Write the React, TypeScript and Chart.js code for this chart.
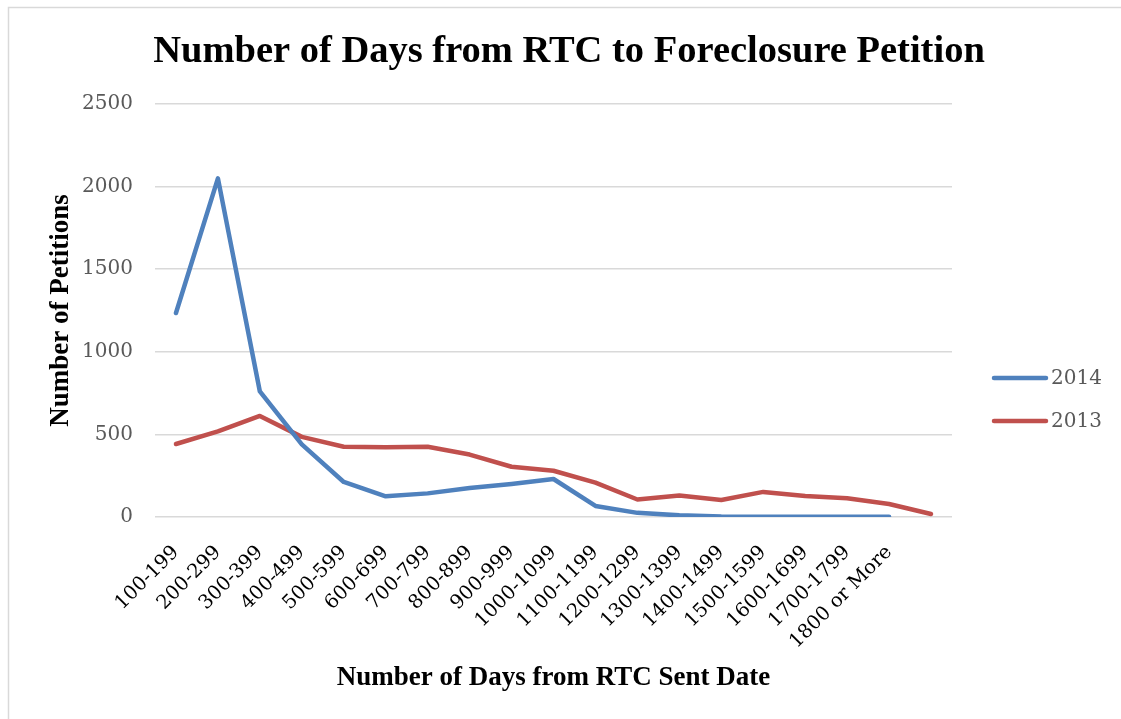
import React, { useEffect, useRef } from "react";
import { Chart, registerables } from "chart.js";
Chart.register(...registerables);

const categories = [
  "100-199", "200-299", "300-399", "400-499", "500-599", "600-699", "700-799",
  "800-899", "900-999", "1000-1099", "1100-1199", "1200-1299", "1300-1399",
  "1400-1499", "1500-1599", "1600-1699", "1700-1799", "1800 or More", "",
];
const series2014 = [1235, 2050, 760, 440, 212, 125, 143, 175, 200, 230, 67, 25, 10, 3, 2, 1, 1, 1, null];
const series2013 = [442, 518, 612, 485, 425, 422, 425, 378, 304, 280, 208, 106, 130, 103, 152, 127, 113, 79, 18];
const seriesNames = ["2014", "2013"];
const seriesColors = ["#4F81BD", "#C0504D"];
const yMin = 0;
const yMax = 2500;
const yStep = 500;
const titleText = "Number of Days from RTC to Foreclosure Petition";
const xTitleText = "Number of Days from RTC Sent Date";
const yTitleText = "Number of Petitions";

const SERIF = "'DejaVu Serif', serif";
const TITLE_FONT = "bold 38.5px 'Liberation Serif', serif";
const AXIS_TITLE_FONT = "bold 27px 'Liberation Serif', serif";

const decorPlugin = {
  id: "decor",
  beforeDraw(chart: any) {
    const ctx = chart.ctx;
    ctx.save();
    ctx.fillStyle = "#ffffff";
    ctx.fillRect(0, 0, chart.width, chart.height);
    ctx.strokeStyle = "#D9D9D9";
    ctx.lineWidth = 1.5;
    ctx.strokeRect(8.5, 7.5, chart.width + 10, chart.height + 10);
    ctx.restore();
  },
  afterDraw(chart: any) {
    const ctx = chart.ctx;
    const area = chart.chartArea;
    ctx.save();
    // title
    ctx.fillStyle = "#000000";
    ctx.font = TITLE_FONT;
    ctx.textAlign = "center";
    ctx.textBaseline = "alphabetic";
    ctx.fillText(titleText, 569, 62);
    // x axis title
    ctx.font = AXIS_TITLE_FONT;
    ctx.fillText(xTitleText, (area.left + area.right) / 2, 685);
    // y axis title
    ctx.save();
    ctx.translate(68, (area.top + area.bottom) / 2);
    ctx.rotate(-Math.PI / 2);
    ctx.fillText(yTitleText, 0, 0);
    ctx.restore();
    // legend
    const legendY = [378, 421];
    chart.data.datasets.forEach((ds: any, i: number) => {
      ctx.strokeStyle = ds.borderColor;
      ctx.lineWidth = 4.5;
      ctx.lineCap = "round";
      ctx.beginPath();
      ctx.moveTo(994, legendY[i]);
      ctx.lineTo(1046, legendY[i]);
      ctx.stroke();
      ctx.fillStyle = "#595959";
      ctx.font = "20px " + SERIF;
      ctx.textAlign = "left";
      ctx.textBaseline = "middle";
      ctx.fillText(ds.label, 1051, legendY[i] + 1);
    });
    ctx.restore();
  },
};

export default function App() {
  const ref = useRef<HTMLCanvasElement | null>(null);
  useEffect(() => {
    document.body.style.margin = "0";
    const canvas = ref.current!;
    const chart = new Chart(canvas, {
      type: "line",
      data: {
        labels: categories,
        datasets: [
          {
            label: seriesNames[0],
            data: series2014,
            borderColor: seriesColors[0],
            backgroundColor: seriesColors[0],
            borderWidth: 4.5,
            pointRadius: 0,
            tension: 0,
            borderCapStyle: "round",
            borderJoinStyle: "round",
          },
          {
            label: seriesNames[1],
            data: series2013,
            borderColor: seriesColors[1],
            backgroundColor: seriesColors[1],
            borderWidth: 4.5,
            pointRadius: 0,
            tension: 0,
            borderCapStyle: "round",
            borderJoinStyle: "round",
          },
        ],
      },
      options: {
        responsive: false,
        animation: false,
        devicePixelRatio: 1,
        layout: { padding: { top: 104, right: 169, left: 0, bottom: 0 } },
        plugins: { legend: { display: false }, title: { display: false }, tooltip: { enabled: false } },
        scales: {
          x: {
            type: "category",
            offset: true,
            grid: { display: false, drawTicks: false },
            border: { display: false },
            ticks: {
              color: "#000000",
              font: { family: SERIF, size: 19.5 },
              maxRotation: 45,
              minRotation: 45,
              autoSkip: false,
              padding: 24,
            },
            afterFit(scale: any) {
              scale.height = 202;
            },
          },
          y: {
            min: yMin,
            max: yMax,
            grid: { color: "#D9D9D9", lineWidth: 1.5, drawTicks: false },
            border: { display: false },
            ticks: {
              stepSize: yStep,
              color: "#595959",
              font: { family: SERIF, size: 20 },
              padding: 22,
              callback: (v: any) => String(v),
            },
            afterFit(scale: any) {
              scale.width = 155;
            },
          },
        },
      },
      plugins: [decorPlugin],
    });
    return () => chart.destroy();
  }, []);
  return (
    <div style={{ position: "absolute", left: 0, top: 0, width: 1121, height: 719 }}>
      <canvas ref={ref} width={1121} height={719} />
    </div>
  );
}
